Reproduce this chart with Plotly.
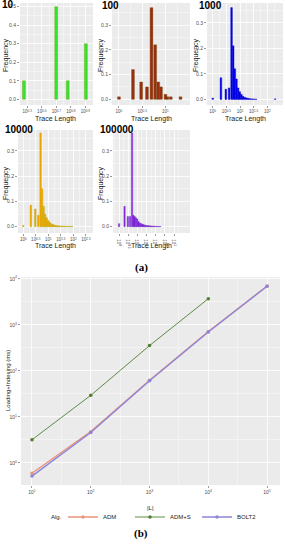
import math
import plotly.graph_objects as go

W, H = 285, 550

# ---------------- Panel (a): trace-length histograms ----------------
# n = 10 traces: trace lengths and frequency
p10_len = [3, 5, 6, 8]
p10_freq = [0.1, 0.5, 0.1, 0.3]
p10_ticks = [0.5, 0.6, 0.7, 0.8, 0.9]

# n = 100 traces
p100_len = [1, 2, 3, 4, 5, 6, 7, 8, 10, 11, 13, 21]
p100_freq = [0.01, 0.12, 0.07, 0.05, 0.37, 0.22, 0.07, 0.05, 0.02, 0.01, 0.01, 0.01]
p100_ticks = [0, 0.5, 1]

# n = 1000 traces (log10 bin centres)
p1000_log_len = [0.0, 0.30, 0.48, 0.60, 0.69, 0.75, 0.81, 0.87, 0.93, 0.99, 1.05,
                 1.11, 1.17, 1.23, 1.29, 1.35, 1.41, 1.47, 1.53, 1.59, 2.29]
p1000_freq = [0.005, 0.085, 0.04, 0.045, 0.36, 0.21, 0.12, 0.08, 0.045, 0.03, 0.02,
              0.012, 0.008, 0.006, 0.004, 0.003, 0.002, 0.002, 0.001, 0.001, 0.002]
p1000_ticks = [0, 0.5, 1, 1.5, 2]

# n = 10000 traces
p10000_log_len = [0.0, 0.30, 0.48, 0.60, 0.69, 0.75, 0.81, 0.87, 0.93, 0.99, 1.05,
                  1.11, 1.17, 1.23, 1.29, 1.35, 1.41, 1.47, 1.53, 1.59, 1.65, 1.71,
                  1.77, 1.83, 1.89, 1.95]
p10000_freq = [0.005, 0.085, 0.07, 0.045, 0.37, 0.15, 0.08, 0.05, 0.035, 0.025, 0.018,
               0.012, 0.009, 0.007, 0.005, 0.004, 0.003, 0.003, 0.002, 0.002, 0.002,
               0.001, 0.001, 0.001, 0.001, 0.001]
p10000_ticks = [0, 0.5, 1, 1.5, 2, 2.5]

# n = 100000 traces
p100000_log_len = [0.0, 0.30, 0.48, 0.60, 0.71, 0.78, 0.85, 0.92, 0.99, 1.06, 1.13,
                   1.20, 1.27, 1.34, 1.41, 1.48, 1.55, 1.62, 1.69, 1.76, 1.83, 1.90,
                   1.97, 2.04, 2.11, 2.18, 2.25]
p100000_freq = [0.012, 0.08, 0.04, 0.04, 0.37, 0.045, 0.04, 0.035, 0.03, 0.02, 0.015,
                0.012, 0.01, 0.008, 0.006, 0.005, 0.004, 0.004, 0.003, 0.003, 0.002,
                0.002, 0.002, 0.001, 0.001, 0.001, 0.001]
p100000_ticks = [0, 0.5, 1, 1.5, 2, 2.5, 3]

panel_titles = ["10", "100", "1000", "10000", "100000"]

# ---------------- Panel (b): loading + indexing time ----------------
L_sizes = [10, 100, 1000, 10000, 100000]
adm_ms = [0.6, 4.8, 63, 720, 7000]
adms_L = [10, 100, 1000, 10000]
adms_ms = [3.2, 29.5, 355, 3700]
bolt2_ms = [0.52, 4.6, 61, 700, 6900]
b_xticks = [10, 100, 1000, 10000, 100000]
b_yticks = [1, 10, 100, 1000, 10000]


def px_x(a, b):
    return [a / W, b / W]


def px_y(top, bottom):
    return [1 - bottom / H, 1 - top / H]


def sup_label(e):
    return "10<sup>%s</sup>" % ("%g" % e)


TICKFONT = dict(family="Liberation Sans, Arial", size=5, color="#4D4D4D")
XTICKFONT = dict(family="Liberation Sans, Arial", size=4.5, color="#4D4D4D")
GRID = "white"

fig = go.Figure()

panels = [
    ([math.log10(v) for v in p10_len], p10_freq, p10_ticks, "#2EE82E", "#7F9A10", 0.02,
     (20, 93), (3, 105), [0.45, 0.952], [-0.031, 0.52], [0, 0.1, 0.2, 0.3, 0.4, 0.5]),
    ([math.log10(v) for v in p100_len], p100_freq, p100_ticks, "#9A2E0E", "#6E4A12", 0.06,
     (112, 190), (3, 105), [-0.15, 1.527], [-0.023, 0.389], [0, 0.1, 0.2, 0.3]),
    (p1000_log_len, p1000_freq, p1000_ticks, "#0000EE", "#0000CC", 0.06,
     (207, 283), (3, 105), [-0.21, 2.575], [-0.022, 0.378], [0, 0.1, 0.2, 0.3]),
    (p10000_log_len, p10000_freq, p10000_ticks, "#FFA500", "#A8A800", 0.06,
     (18, 93), (130, 233), [-0.21, 2.78], [-0.025, 0.382], [0, 0.1, 0.2, 0.3]),
    (p100000_log_len, p100000_freq, p100000_ticks, "#8A2BE2", "#6A1BC2", 0.07,
     (113, 190), (130, 233), [-0.33, 3.87], [-0.025, 0.382], [0, 0.1, 0.2, 0.3]),
]

layout_axes = {}
for i, (xs, ys, ticks, fill, line, w, xd, yd, xr, yr, yt) in enumerate(panels, start=1):
    xa = "x" if i == 1 else "x%d" % i
    ya = "y" if i == 1 else "y%d" % i
    fig.add_trace(go.Bar(x=xs, y=ys, width=w, xaxis=xa, yaxis=ya,
                         marker=dict(color=fill, line=dict(color=line, width=0.4)),
                         showlegend=False, hoverinfo="skip"))
    step = ticks[1] - ticks[0]
    xminor = [t + step / 2 for t in [ticks[0] - step] + ticks]
    yminor = [v + 0.05 for v in [-0.1] + yt]
    xkey = "xaxis" if i == 1 else "xaxis%d" % i
    ykey = "yaxis" if i == 1 else "yaxis%d" % i
    layout_axes[xkey] = dict(
        domain=[xd[0] / W, xd[1] / W], anchor=ya, range=xr, automargin=False,
        tickmode="array", tickvals=ticks, ticktext=[sup_label(t) for t in ticks],
        showgrid=True, gridcolor=GRID, gridwidth=0.8, zeroline=False,
        ticks="outside", ticklen=2, tickwidth=0.5, tickcolor="#333333",
        tickfont=XTICKFONT, showline=False, fixedrange=True,
        minor=dict(tickmode="array", tickvals=xminor, showgrid=True,
                   gridcolor=GRID, gridwidth=0.4, ticks=""),
    )
    layout_axes[ykey] = dict(
        domain=px_y(*yd), anchor=xa, range=yr, automargin=False,
        tickmode="array", tickvals=yt, ticktext=["%.1f" % v for v in yt],
        showgrid=True, gridcolor=GRID, gridwidth=0.8, zeroline=False,
        ticks="outside", ticklen=2, tickwidth=0.5, tickcolor="#333333",
        tickfont=TICKFONT, showline=False, fixedrange=True,
        minor=dict(tickmode="array", tickvals=yminor, showgrid=True,
                   gridcolor=GRID, gridwidth=0.4, ticks=""),
    )

# Panel (b) traces
fig.add_trace(go.Scatter(x=L_sizes, y=adm_ms, mode="lines+markers", name="ADM",
                         line=dict(color="#E9967A", width=1.4),
                         marker=dict(size=3.5, color="#E9967A"),
                         xaxis="x6", yaxis="y6"))
fig.add_trace(go.Scatter(x=adms_L, y=adms_ms, mode="lines+markers", name="ADM+S",
                         line=dict(color="#4E7F2E", width=0.9),
                         marker=dict(size=3.5, color="#4E7F2E"),
                         xaxis="x6", yaxis="y6"))
fig.add_trace(go.Scatter(x=L_sizes, y=bolt2_ms, mode="lines+markers", name="BOLT2",
                         line=dict(color="#8E85D8", width=1.4),
                         marker=dict(size=3.5, color="#8E85D8"),
                         xaxis="x6", yaxis="y6"))

b_xminor = [10 ** (math.log10(v) + 0.5) for v in [1] + b_xticks]
b_yminor = [10 ** (math.log10(v) + 0.5) for v in [0.1] + b_yticks]
layout_axes["xaxis6"] = dict(
    domain=px_x(21, 280), anchor="y6", type="log", range=[0.813, 5.22], automargin=False,
    tickmode="array", tickvals=b_xticks,
    ticktext=[sup_label(round(math.log10(v))) for v in b_xticks],
    showgrid=True, gridcolor=GRID, gridwidth=0.8, zeroline=False,
    ticks="outside", ticklen=2, tickwidth=0.5, tickcolor="#333333",
    tickfont=TICKFONT, showline=False, fixedrange=True,
    minor=dict(tickmode="array", tickvals=b_xminor, showgrid=True,
               gridcolor=GRID, gridwidth=0.4, ticks=""),
)
layout_axes["yaxis6"] = dict(
    domain=px_y(277, 485), anchor="x6", type="log", range=[-0.478, 4.04], automargin=False,
    tickmode="array", tickvals=b_yticks,
    ticktext=[sup_label(round(math.log10(v))) for v in b_yticks],
    showgrid=True, gridcolor=GRID, gridwidth=0.8, zeroline=False,
    ticks="outside", ticklen=2, tickwidth=0.5, tickcolor="#333333",
    tickfont=TICKFONT, showline=False, fixedrange=True,
    minor=dict(tickmode="array", tickvals=b_yminor, showgrid=True,
               gridcolor=GRID, gridwidth=0.4, ticks=""),
)

# ---------------- Text annotations ----------------
ann = []
TITLEFONT = dict(family="Liberation Sans, Arial", size=10, color="black")
title_pos = [(0, 5), (100, 6), (197, 6), (3, 129), (98, 129)]
for t, (x, y) in zip(panel_titles, title_pos):
    ann.append(dict(text="<b>%s</b>" % t, x=x / W, y=1 - y / H, xref="paper", yref="paper",
                    xanchor="left", yanchor="middle", showarrow=False, font=TITLEFONT))

LABFONT = dict(family="Liberation Sans, Arial", size=7, color="#222222")
for (x, y) in [(55, 119), (151, 119), (245, 119), (55, 246), (151, 246)]:
    ann.append(dict(text="Trace Length", x=x / W, y=1 - y / H, xref="paper", yref="paper",
                    xanchor="center", yanchor="middle", showarrow=False, font=LABFONT))
for (x, y) in [(6, 55), (101, 55), (196, 55), (6, 183), (101, 183)]:
    ann.append(dict(text="Frequency", x=x / W, y=1 - y / H, xref="paper", yref="paper",
                    xanchor="center", yanchor="middle", textangle=-90, showarrow=False,
                    font=LABFONT))

SMALL = dict(family="Liberation Sans, Arial", size=6, color="#222222")
ann.append(dict(text="Loading+Indexing (ms)", x=8 / W, y=1 - 381 / H, xref="paper",
                yref="paper", xanchor="center", yanchor="middle", textangle=-90,
                showarrow=False, font=SMALL))
ann.append(dict(text="|L|", x=150 / W, y=1 - 508 / H, xref="paper", yref="paper",
                xanchor="center", yanchor="middle", showarrow=False, font=SMALL))
# legend title
ann.append(dict(text="Alg.", x=64 / W, y=1 - 517 / H, xref="paper", yref="paper",
                xanchor="right", yanchor="middle", showarrow=False, font=SMALL))

CAP = dict(family="Liberation Serif, DejaVu Serif, serif", size=11, color="black")
ann.append(dict(text="<b>(a)</b>", x=141 / W, y=1 - 267 / H, xref="paper", yref="paper",
                xanchor="center", yanchor="middle", showarrow=False, font=CAP))
ann.append(dict(text="<b>(b)</b>", x=141 / W, y=1 - 533 / H, xref="paper", yref="paper",
                xanchor="center", yanchor="middle", showarrow=False, font=CAP))

fig.update_layout(
    width=W, height=H, autosize=False,
    margin=dict(l=0, r=0, t=0, b=0, autoexpand=False),
    paper_bgcolor="white", plot_bgcolor="#EBEBEB",
    annotations=ann,
    showlegend=True, hovermode=False,
    legend=dict(orientation="h", x=63 / W, xanchor="left", y=1 - 517 / H, yanchor="middle",
                font=SMALL, itemwidth=30, tracegroupgap=0, bgcolor="rgba(0,0,0,0)",
                entrywidth=22, entrywidthmode="pixels",
                itemclick=False, itemdoubleclick=False),
    bargap=0,
    **layout_axes,
)

fig.write_html("out.html",
               config={"displayModeBar": False, "staticPlot": True},
               post_script="document.body.style.margin='0';document.body.style.overflow='hidden';")
